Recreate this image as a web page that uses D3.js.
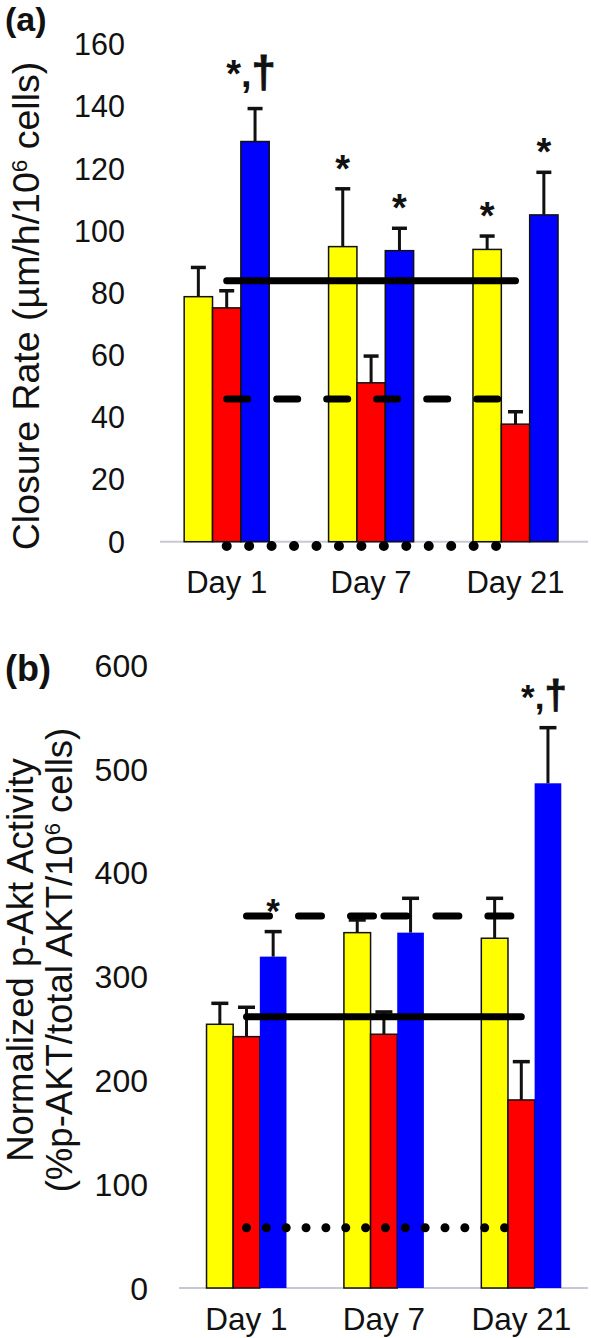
<!DOCTYPE html>
<html><head><meta charset="utf-8">
<script src="https://cdn.jsdelivr.net/npm/d3@7"></script>
<style>
body{margin:0;background:#fff;}
svg{display:block;font-family:"Liberation Sans",Arial,sans-serif;}
</style></head>
<body><svg id="c" width="591" height="1338"></svg>
<script>
// ---------- DATA ----------
const categories = ["Day 1", "Day 7", "Day 21"];
const seriesNames = ["Yellow", "Red", "Blue"];
const seriesColors = ["#ffff00", "#ff0000", "#0000ff"];

// Panel (a): Closure rate
const aTicks = [0, 20, 40, 60, 80, 100, 120, 140, 160];
const aYellow = [78.8, 94.9, 94.0];
const aRed = [75.2, 51.1, 37.8];
const aBlue = [128.7, 93.6, 105.1];
const aYellowErr = [88.2, 113.5, 98.3];
const aRedErr = [80.7, 59.7, 41.8];
const aBlueErr = [139.3, 100.8, 118.8];
const aSolidRef = 83.9;
const aDashedRef = 45.9;
const aDottedRef = -1.4;
const aAnnotYellow = ["", "*", "*"];
const aAnnotRed = ["", "", ""];
const aAnnotBlue = ["*,†", "*", "*"];

// Panel (b): p-Akt activity
const bTicks = [0, 100, 200, 300, 400, 500, 600];
const bYellow = [254.1, 342.4, 337.0];
const bRed = [242.2, 244.5, 181.2];
const bBlue = [319.3, 342.4, 486.3];
const bYellowErr = [274.3, 354.6, 375.5];
const bRedErr = [270.5, 266.0, 218.1];
const bBlueErr = [343.4, 375.5, 539.9];
const bSolidRef = 261.4;
const bDashedRef = 358.4;
const bDottedRef = 58.1;
const bAnnotYellow = ["", "", ""];
const bAnnotRed = ["", "", ""];
const bAnnotBlue = ["*", "", "*,†"];

// ---------- LAYOUT ----------
const svg = d3.select("#c");

function panel(cfg) {
  const g = svg.append("g");
  const y = d3.scaleLinear().domain([0, cfg.ticks[cfg.ticks.length - 1]]).range([cfg.y0, cfg.yTop]);
  const x = d3.scaleBand().domain(categories).range(cfg.xRange).padding(0);
  const gw = x.step() * cfg.groupFrac;
  const xs = d3.scaleBand().domain(seriesNames).range([-gw / 2, gw / 2]).padding(0);
  const cx = c => x(c) + x.bandwidth() / 2;

  // baseline
  g.append("line").attr("x1", cfg.axisX0).attr("x2", cfg.axisX1)
    .attr("y1", y(0)).attr("y2", y(0)).attr("stroke", "#c8c8d2").attr("stroke-width", 2);

  // y tick labels
  g.selectAll(".yt").data(cfg.ticks).join("text")
    .attr("x", cfg.tickX).attr("y", d => y(d)).attr("dy", "0.36em")
    .attr("text-anchor", "end").attr("font-size", cfg.tickFont).attr("fill", "#111")
    .text(d => d);

  // bars
  const rows = [];
  categories.forEach((c, i) => {
    seriesNames.forEach((s, j) => {
      rows.push({c, s, j, v: cfg.vals[j][i], e: cfg.errs[j][i], a: cfg.annots[j][i]});
    });
  });
  g.selectAll(".bar").data(rows).join("rect")
    .attr("x", d => cx(d.c) + xs(d.s)).attr("width", xs.bandwidth())
    .attr("y", d => y(d.v)).attr("height", d => y(0) - y(d.v))
    .attr("fill", d => seriesColors[d.j])
    .attr("stroke", d => (d.j === 2 && !cfg.blueStroke) ? "none" : "#111")
    .attr("stroke-width", 1.5);

  // error bars
  const eb = g.selectAll(".eb").data(rows).join("g");
  eb.append("line")
    .attr("x1", d => cx(d.c) + xs(d.s) + xs.bandwidth() / 2)
    .attr("x2", d => cx(d.c) + xs(d.s) + xs.bandwidth() / 2)
    .attr("y1", d => y(d.v)).attr("y2", d => y(d.e))
    .attr("stroke", "#111").attr("stroke-width", 3);
  eb.append("line")
    .attr("x1", d => cx(d.c) + xs(d.s) + xs.bandwidth() / 2 - cfg.capW / 2)
    .attr("x2", d => cx(d.c) + xs(d.s) + xs.bandwidth() / 2 + cfg.capW / 2)
    .attr("y1", d => y(d.e)).attr("y2", d => y(d.e))
    .attr("stroke", "#111").attr("stroke-width", 3.5);

  // reference lines
  const x1 = cx(categories[0]), x3 = cx(categories[categories.length - 1]);
  g.append("line").attr("x1", x1).attr("x2", x3)
    .attr("y1", y(cfg.solid)).attr("y2", y(cfg.solid))
    .attr("stroke", "#000").attr("stroke-width", 7).attr("stroke-linecap", "round");
  if (cfg.dashRestart) {
    for (let k = 0; k < categories.length - 1; k++) {
      g.append("line").attr("x1", cx(categories[k])).attr("x2", cx(categories[k + 1]))
        .attr("y1", y(cfg.dashed)).attr("y2", y(cfg.dashed))
        .attr("stroke", "#000").attr("stroke-width", 7).attr("stroke-linecap", "round")
        .attr("stroke-dasharray", cfg.dash);
    }
  } else {
    g.append("line").attr("x1", x1).attr("x2", x3)
      .attr("y1", y(cfg.dashed)).attr("y2", y(cfg.dashed))
      .attr("stroke", "#000").attr("stroke-width", 7).attr("stroke-linecap", "round")
      .attr("stroke-dasharray", cfg.dash);
  }
  g.append("line").attr("x1", x1).attr("x2", x3)
    .attr("y1", y(cfg.dotted)).attr("y2", y(cfg.dotted))
    .attr("stroke", "#000").attr("stroke-width", cfg.dotSize).attr("stroke-linecap", "round")
    .attr("stroke-dasharray", "0," + cfg.dotGap);

  // annotations
  const an = g.selectAll(".an").data(rows.filter(d => d.a)).join("text")
    .attr("x", d => cx(d.c) + xs(d.s) + xs.bandwidth() / 2 + (d.a.length > 1 ? -4 : 0))
    .attr("y", d => y(d.e) - (d.a.length > 1 ? cfg.annotGapMulti : cfg.annotGap))
    .attr("text-anchor", "middle").attr("font-weight", "bold")
    .attr("font-size", cfg.annotFont).attr("fill", "#111");
  an.each(function(d) {
    const t = d3.select(this);
    d.a.split("").forEach(ch => {
      t.append("tspan").attr("font-size", ch === "†" ? cfg.annotFont * 1.15 : null)
        .attr("stroke", ch === "†" ? "#111" : null)
        .attr("stroke-width", ch === "†" ? 0.8 : null)
        .text(ch);
    });
  });

  // category labels
  g.selectAll(".xl").data(categories).join("text")
    .attr("x", d => cx(d)).attr("y", cfg.xLabelY)
    .attr("text-anchor", "middle").attr("font-size", cfg.xFont).attr("fill", "#111")
    .text(d => d);

  // y-axis title
  cfg.title.forEach((t, k) => {
    const tx = g.append("text")
      .attr("transform", `translate(${cfg.titleX[k]},${cfg.titleY}) rotate(-90)`)
      .attr("text-anchor", "middle").attr("font-size", cfg.titleFont).attr("fill", "#111");
    t.forEach(part => {
      tx.append("tspan").attr("baseline-shift", part.sup ? "super" : null)
        .attr("font-size", part.sup ? cfg.titleFont * 0.6 : null).text(part.t);
    });
  });

  // panel label
  g.append("text").attr("x", 5).attr("y", cfg.labelY)
    .attr("font-weight", "bold").attr("font-size", cfg.labelFont).attr("fill", "#111")
    .text(cfg.label);
}

panel({
  ticks: aTicks, y0: 541.7, yTop: 44.2, xRange: [154.5, 587.7], groupFrac: 0.589,
  axisX0: 160, axisX1: 588, tickX: 125, tickFont: 30.5,
  vals: [aYellow, aRed, aBlue], errs: [aYellowErr, aRedErr, aBlueErr],
  annots: [aAnnotYellow, aAnnotRed, aAnnotBlue], blueStroke: true, capW: 15,
  solid: aSolidRef, dashed: aDashedRef, dotted: aDottedRef,
  dash: "21,29", dashRestart: false, dotSize: 10, dotGap: 22.45,
  annotFont: 38, annotGap: 7, annotGapMulti: 21.5, xLabelY: 593, xFont: 31,
  title: [[{t: "Closure Rate (µm/h/10"}, {t: "6", sup: true}, {t: " cells)"}]],
  titleX: [39], titleY: 306, titleFont: 37.5,
  label: "(a)", labelY: 31, labelFont: 34
});

panel({
  ticks: bTicks, y0: 1288, yTop: 665.3, xRange: [177.8, 590], groupFrac: 0.582,
  axisX0: 179, axisX1: 588, tickX: 148, tickFont: 32,
  vals: [bYellow, bRed, bBlue], errs: [bYellowErr, bRedErr, bBlueErr],
  annots: [bAnnotYellow, bAnnotRed, bAnnotBlue], blueStroke: false, capW: 17,
  solid: bSolidRef, dashed: bDashedRef, dotted: bDottedRef,
  dash: "23,29", dashRestart: true, dotSize: 9, dotGap: 19.85,
  annotFont: 35, annotGap: 9, annotGapMulti: 19, xLabelY: 1330, xFont: 31.5,
  title: [[{t: "Normalized p-Akt Activity"}],
          [{t: "(%p-AKT/total AKT/10"}, {t: "6", sup: true}, {t: " cells)"}]],
  titleX: [33, 72], titleY: 960, titleFont: 36.5,
  label: "(b)", labelY: 681, labelFont: 36
});
</script>
</body></html>
